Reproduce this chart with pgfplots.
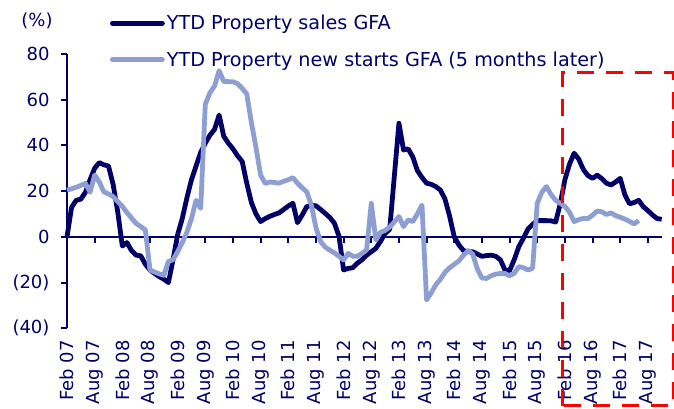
\documentclass[border=0pt]{standalone}
\usepackage{fontspec}
\setmainfont{DejaVu Sans}
\usepackage{pgfplots}
\pgfplotsset{compat=1.18}
\definecolor{navy}{RGB}{0,0,102}
\definecolor{lightblue}{RGB}{141,159,210}
\begin{document}
\begin{tikzpicture}[font=\fontsize{18}{21}\selectfont]
\begin{axis}[
  scale only axis, width=594.7pt, height=274.3pt,
  at={(0pt,0pt)}, anchor=south west,
  xmin=0, xmax=129, ymin=-40, ymax=80,
  axis x line=middle, axis y line=left,
  axis line style={-, draw=navy, line width=2.2pt},
  hide obscured x ticks=false, hide obscured y ticks=false,
  xtick={0,6,...,126},
  xticklabels={Feb 07,Aug 07,Feb 08,Aug 08,Feb 09,Aug 09,Feb 10,Aug 10,Feb 11,Aug 11,Feb 12,Aug 12,Feb 13,Aug 13,Feb 14,Aug 14,Feb 15,Aug 15,Feb 16,Aug 16,Feb 17,Aug 17},
  ytick={-40,-20,0,20,40,60,80},
  yticklabels={(40),(20),0\hspace{5.5pt},20\hspace{5.5pt},40\hspace{5.5pt},60\hspace{5.5pt},80\hspace{5.5pt}},
  tick style={draw=navy, line width=2pt},
  major tick length=6pt,
  tick align=outside,
  xticklabel style={rotate=90, anchor=east, text=navy},
  xticklabel shift=94pt,
  yticklabel style={anchor=east, text=navy},
  yticklabel shift=8pt,
  clip=false,
  legend style={draw=none, fill=none, at={(0.0723,1.149)}, anchor=north west,
    text=navy, row sep=16.5pt, inner sep=0pt, outer sep=0pt,
    font=\fontsize{19.2}{22}\selectfont},
  legend cell align=left,
  legend image code/.code={\draw[#1, line cap=round] (0pt,0pt) -- (50pt,0pt);},
]
\addplot[navy, line width=4.8pt, line join=round] coordinates {
(0,0) (1,13) (2,16) (3,16.5) (4,19.5) (5,25) (6,30) (7,32.5) (8,31.5) (9,31)
(10,23) (11,11) (12,-4) (13,-2.5) (14,-6) (15,-8) (16,-8.3) (17,-12) (18,-14.5) (19,-16)
(20,-17.4) (21,-18.5) (22,-20) (23,-10) (24,1) (25,8) (26,17) (27,25) (28,31) (29,37)
(30,41) (31,44.5) (32,47) (33,53.3) (34,44) (35,41) (36,38.5) (37,35.5) (38,33) (39,23.4)
(40,15) (41,10) (42,6.7) (43,8) (44,9) (45,9.8) (46,10.5) (47,12) (48,13.5) (49,14.7)
(50,6.2) (51,9.5) (52,13.2) (53,13.8) (54,13.6) (55,12) (56,10.3) (57,8.5) (58,6) (59,0.3)
(60,-14.5) (61,-13.8) (62,-13.5) (63,-11.5) (64,-10) (65,-8) (66,-6.5) (67,-5) (68,-2) (69,1.5)
(70,3.3) (72,49.7) (73,38) (74,38.5) (75,35) (76,29) (77,26) (78,23.5) (79,23)
(80,22) (81,20.5) (82,16.5) (83,9) (84,0) (85,-3.5) (86,-6) (87,-6.5) (88,-6.5) (89,-7.5)
(90,-8.5) (91,-8.2) (92,-8) (93,-8.5) (94,-10) (95,-14.5) (96,-14.8) (97,-10) (98,-4.3) (99,-0.6)
(100,3.5) (101,5.5) (102,7.1) (103,7.1) (104,7.1) (105,7) (106,6.5) (107,14.5) (108,25) (109,31.8)
(110,36.6) (111,34) (112,29.5) (113,26.8) (114,25.6) (115,27) (116,25.5) (117,23.5) (118,22.7) (119,24)
(120,25.6) (121,18.5) (122,14.5) (123,15) (124,16) (125,13.2) (126,11.5) (127,9.6) (128,8) (129,7.7)
};
\addlegendentry{YTD Property sales GFA}
\addplot[lightblue, line width=4.8pt, line join=round] coordinates {
(0,20.5) (1,21) (2,21.7) (3,22.5) (4,23.4) (5,19.5) (6,27) (7,24) (8,19.7) (9,18.8)
(10,17.6) (11,15.5) (12,13.3) (13,10.7) (14,8.2) (15,5.9) (16,4.5) (17,3) (18,-14.5) (19,-15.4)
(20,-16.2) (21,-16.8) (22,-10.8) (23,-10) (24,-6.5) (25,-2.5) (26,2) (27,8) (28,16) (29,12.5)
(30,58) (31,63) (32,66) (33,72.7) (34,68) (35,67.9) (36,67.9) (37,67) (38,65) (39,62.5)
(40,50) (41,39) (42,27) (43,23.4) (44,24) (45,23.8) (46,23.5) (47,24.3) (48,25) (49,25.9)
(50,23.5) (51,21.5) (52,19.7) (53,14) (54,4) (55,-2) (56,-4.5) (57,-5.8) (58,-7) (59,-8.5)
(60,-10.1) (61,-7.2) (62,-8.5) (63,-8.5) (64,-7.2) (65,-5.7) (66,14.7) (67,-1.4) (68,2) (69,2.8)
(70,4.3) (71,6.5) (72,8.9) (73,4.5) (74,7.4) (75,6.7) (76,10) (77,13.9) (78,-27.6) (79,-24.5)
(80,-21) (81,-18.5) (82,-15.5) (83,-13.5) (84,-12) (85,-10.5) (86,-8) (87,-6) (88,-7.5) (89,-14)
(90,-18) (91,-18.2) (92,-17) (93,-16.3) (94,-16) (95,-16) (96,-17) (97,-16) (98,-13) (99,-13.5)
(100,-14.5) (101,-13.7) (102,14.7) (103,19.5) (104,22) (105,18.5) (106,16) (107,14.7) (108,13.3) (109,10.8)
(110,6.7) (111,7.5) (112,8.1) (113,8) (114,9.5) (115,11.3) (116,11) (117,9.8) (118,10.5) (119,9.3)
(120,8.6) (121,7.8) (122,6.8) (123,5.7) (124,7.1)
};
\addlegendentry{YTD Property new starts GFA (5 months later)}
\draw[red, line width=3pt, dash pattern=on 17pt off 12pt] (axis cs:107.5,-73.9) rectangle (axis cs:131.6,71.9);
\end{axis}
\node[text=navy] at (-30pt,307.3pt) {(\%)};
\pgfresetboundingbox
\path (-67pt,-79.7pt) rectangle (607pt,328.3pt);
\end{tikzpicture}
\end{document}
